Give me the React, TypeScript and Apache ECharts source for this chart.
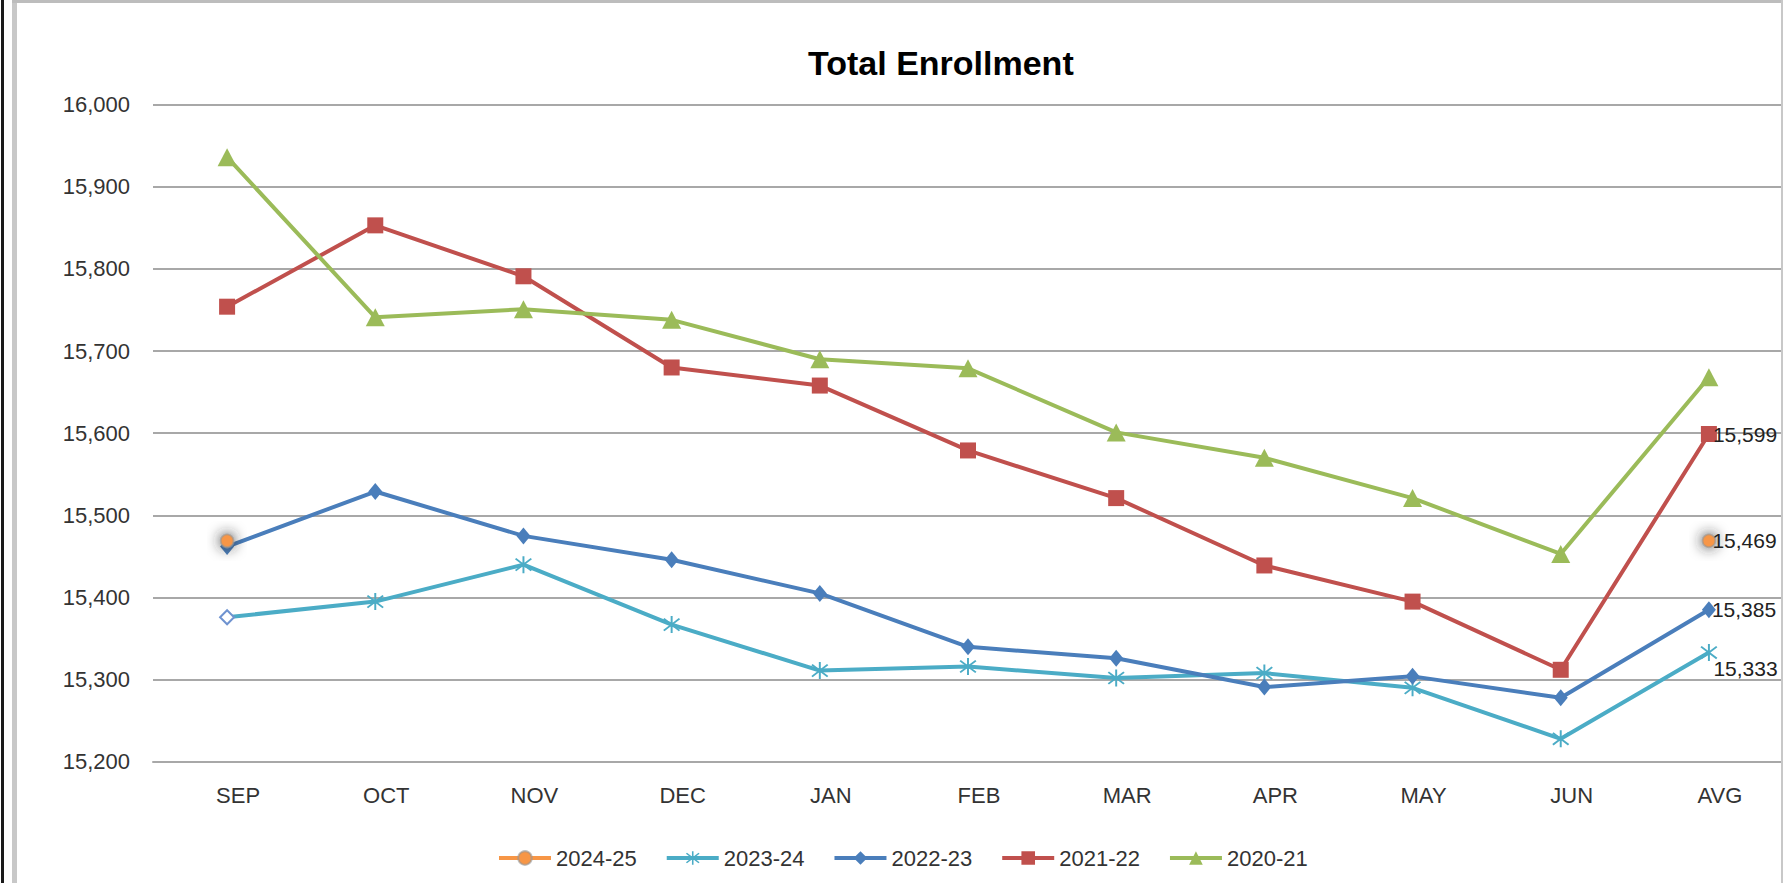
import React, { useEffect, useRef } from "react";
import * as echarts from "echarts";

const months = ["SEP", "OCT", "NOV", "DEC", "JAN", "FEB", "MAR", "APR", "MAY", "JUN", "AVG"];
const seriesNames = ["2024-25", "2023-24", "2022-23", "2021-22", "2020-21"];
const y2024 = [15469, null, null, null, null, null, null, null, null, null, 15469];
const y2023 = [15376, 15395, 15440, 15367, 15311, 15316, 15302, 15308, 15290, 15228, 15333];
const y2022 = [15462, 15529, 15475, 15446, 15405, 15340, 15326, 15291, 15304, 15278, 15385];
const y2021 = [15754, 15853, 15791, 15680, 15658, 15579, 15521, 15439, 15395, 15312, 15599];
const y2020 = [15936, 15741, 15751, 15738, 15690, 15679, 15601, 15570, 15521, 15453, 15668];
const yTicks = { min: 15200, max: 16000, interval: 100 };

const COLORS = ["#F79646", "#4BACC6", "#4A7EBB", "#C0504D", "#9BBB59"];
const FONT = "Liberation Sans, Arial, sans-serif";

const starPath =
  "path://M9 0L11 0L11 20L9 20Z M1.34 3.75L2.66 2.25L18.66 16.25L17.34 17.75Z M17.34 2.25L18.66 3.75L2.66 17.75L1.34 16.25Z";

const fmt = (v: number) => Number(v).toLocaleString("en-US");

export default function App() {
  const ref = useRef<HTMLDivElement>(null);

  useEffect(() => {
    if (!ref.current) return;
    const chart = echarts.init(ref.current, undefined, { renderer: "svg" });

    const lastLabel = (extra: any = {}) => ({
      show: true,
      position: "right",
      distance: -4,
      color: "#222",
      fontFamily: FONT,
      fontSize: 21,
      formatter: (p: any) => fmt(p.value),
      ...extra,
    });

    const withLast = (arr: (number | null)[], extra: any = {}) =>
      arr.map((v, i) => (i === arr.length - 1 ? { value: v, label: lastLabel(extra) } : v));

    const d2023: any[] = withLast(y2023, { offset: [0, 16] });
    d2023[0] = {
      value: y2023[0],
      symbol: "emptyDiamond",
      symbolSize: 14,
      itemStyle: { color: "#6f93d0", borderColor: "#6f93d0" },
    };

    const baseLine = (color: string) => ({
      type: "line",
      lineStyle: { width: 4, color },
      itemStyle: { color },
      z: 3,
    });

    const option: any = {
      animation: false,
      backgroundColor: "#ffffff",
      color: COLORS,
      title: {
        text: "Total Enrollment",
        left: 803,
        top: 38,
        textStyle: { fontFamily: FONT, fontSize: 34, fontWeight: "bold", color: "#000", lineHeight: 40 },
      },
      legend: {
        data: seriesNames,
        left: 492,
        top: 842,
        itemWidth: 52,
        itemHeight: 17,
        itemGap: 28,
        lineStyle: { width: 4 },
        textStyle: { fontFamily: FONT, fontSize: 22, color: "#333", lineHeight: 22 },
      },
      grid: { left: 153, top: 104.6, width: 1634, height: 657.2, containLabel: false },
      xAxis: {
        type: "category",
        data: months,
        boundaryGap: true,
        axisLine: { show: true, lineStyle: { color: "#a8a8a8", width: 2 } },
        axisTick: { show: false },
        axisLabel: {
          fontFamily: FONT,
          fontSize: 22,
          color: "#333",
          margin: 23,
          padding: [0, 0, 0, 22],
        },
      },
      yAxis: {
        type: "value",
        min: yTicks.min,
        max: yTicks.max,
        interval: yTicks.interval,
        axisLine: { show: false },
        axisTick: { show: false },
        splitLine: { lineStyle: { color: "#a8a8a8", width: 2 } },
        axisLabel: {
          fontFamily: FONT,
          fontSize: 22,
          color: "#333",
          margin: 23,
          formatter: (v: number) => fmt(v),
        },
      },
      graphic: [
        { type: "rect", shape: { x: 1, y: 0, width: 3, height: 883 }, style: { fill: "#1a1a1a" }, z: 100 },
        { type: "rect", shape: { x: 12, y: 0, width: 5, height: 883 }, style: { fill: "#c8c8c8" }, z: 100 },
        { type: "rect", shape: { x: 12, y: 0, width: 1771, height: 3 }, style: { fill: "#bdbdbd" }, z: 100 },
        { type: "rect", shape: { x: 1781, y: 0, width: 2, height: 883 }, style: { fill: "#c8c8c8" }, z: 100 },
      ],
      series: [
        {
          ...baseLine(COLORS[0]),
          name: seriesNames[0],
          data: withLast(y2024),
          symbol: "circle",
          symbolSize: 13,
          connectNulls: false,
          itemStyle: {
            color: COLORS[0],
            borderColor: "rgba(150,150,150,0.6)",
            borderWidth: 2,
            shadowBlur: 14,
            shadowColor: "rgba(40,40,40,1)",
          },
          z: 6,
        },
        {
          ...baseLine(COLORS[1]),
          name: seriesNames[1],
          data: d2023,
          symbol: starPath,
          symbolSize: 17,
        },
        {
          ...baseLine(COLORS[2]),
          name: seriesNames[2],
          data: withLast(y2022),
          symbol: "diamond",
          symbolSize: [14, 17],
        },
        {
          ...baseLine(COLORS[3]),
          name: seriesNames[3],
          data: withLast(y2021),
          symbol: "rect",
          symbolSize: 16,
        },
        {
          ...baseLine(COLORS[4]),
          name: seriesNames[4],
          data: y2020,
          symbol: "triangle",
          symbolSize: [19, 18],
        },
      ],
    };

    chart.setOption(option);
    return () => chart.dispose();
  }, []);

  return (
    <div
      ref={ref}
      style={{ position: "absolute", left: 0, top: 0, width: 1783, height: 883, background: "#fff" }}
    />
  );
}
